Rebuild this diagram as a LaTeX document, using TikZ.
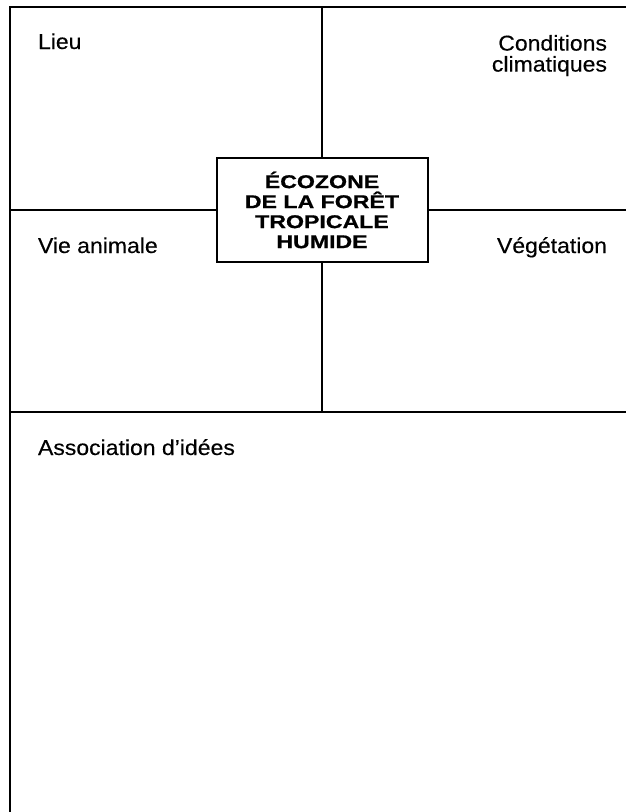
\documentclass[tikz,border=0pt]{standalone}
\usepackage{fontspec}
\setmainfont{Liberation Sans}
\newfontfamily\labelfont[FakeStretch=1.07,FakeBold=0.3]{Liberation Sans}
\newfontfamily\titlefont[FakeStretch=1.25,FakeBold=0.8]{Liberation Sans}
\usetikzlibrary{positioning}

\begin{document}
\begin{tikzpicture}[
        x=1pt, y=-1pt, line width=2pt,
        label text/.style={inner sep=0pt, font=\labelfont\fontsize{21.5}{21}\selectfont},
        title box/.style={draw, fill=white, align=center, inner sep=0pt,
          minimum width=211pt, minimum height=104pt,
          font=\titlefont\bfseries\fontsize{18.5}{20}\selectfont}
        ]
        \useasboundingbox (0,0) rectangle (626,812);
        \draw (10,7) rectangle (634,820);

        \node[title box] (eco_zone) at (322,210) {ÉCOZONE\\DE LA FORÊT\\TROPICALE\\HUMIDE};

        \coordinate (top_mid) at (322,7);
        \coordinate (bottom_mid) at (322,412);
        \coordinate (left_mid) at (10,210);
        \coordinate (right_mid) at (634,210);
        \coordinate (split_left) at (10,412);
        \coordinate (split_right) at (634,412);

        \draw (top_mid) -- (eco_zone.north);
        \draw (eco_zone.south) -- (bottom_mid);
        \draw (left_mid) -- (eco_zone.west);
        \draw (eco_zone.east) -- (right_mid);
        \draw (split_left) -- (split_right);

        \node[label text, anchor=base west] (lieu) at (37,49) {Lieu};
        \node[label text, anchor=north east, align=right] (climat) at (608,34) {Conditions\\climatiques};
        \node[label text, anchor=base west] (vie_animale) at (37,253) {Vie animale};
        \node[label text, anchor=base east] (vegetation) at (608,253) {Végétation};
        \node[label text, anchor=base west] (idees) at (37,455) {Association d’idées};
      \end{tikzpicture}
\end{document}
